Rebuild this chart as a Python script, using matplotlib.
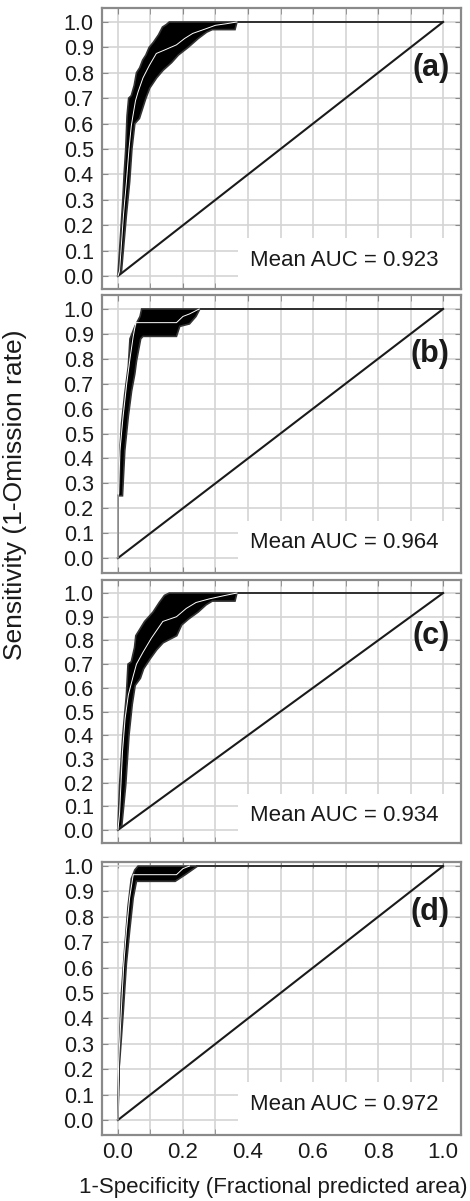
import numpy as np
import matplotlib.pyplot as plt
from matplotlib.patches import Rectangle
from matplotlib.ticker import MultipleLocator

plt.rcParams['font.family'] = ['Liberation Sans', 'DejaVu Sans']

# panel labels and mean AUC
panels = ['(a)', '(b)', '(c)', '(d)']
mean_auc = [0.923, 0.964, 0.934, 0.972]

# upper edge of the +/- band (left side in x), lower edge, and the mean curve
upper_a_x = [0.0, 0.005, 0.010, 0.015, 0.019, 0.024, 0.028, 0.033, 0.041, 0.050, 0.057, 0.067, 0.076, 0.086, 0.096, 0.109, 0.125, 0.137, 0.149, 0.158]
upper_a_y = [0.0, 0.10, 0.20, 0.30, 0.40, 0.50, 0.63, 0.70, 0.71, 0.75, 0.80, 0.82, 0.85, 0.87, 0.90, 0.92, 0.95, 0.98, 0.99, 1.0]
lower_a_x = [0.0, 0.011, 0.026, 0.036, 0.043, 0.052, 0.066, 0.076, 0.086, 0.098, 0.119, 0.139, 0.165, 0.186, 0.216, 0.247, 0.273, 0.290, 0.360, 0.366, 1.0]
lower_a_y = [0.0, 0.02, 0.24, 0.37, 0.50, 0.60, 0.62, 0.66, 0.70, 0.74, 0.78, 0.81, 0.84, 0.87, 0.90, 0.935, 0.96, 0.97, 0.97, 1.0, 1.0]
mean_a_x = [0.0, 0.005, 0.017, 0.026, 0.034, 0.041, 0.046, 0.054, 0.062, 0.077, 0.097, 0.118, 0.144, 0.180, 0.205, 0.230, 0.272, 0.300, 0.333, 0.366]
mean_a_y = [0.0, 0.02, 0.24, 0.37, 0.50, 0.59, 0.63, 0.69, 0.725, 0.78, 0.83, 0.876, 0.89, 0.91, 0.935, 0.955, 0.974, 0.987, 0.993, 1.0]

upper_b_x = [0.0, 0.0, 0.004, 0.006, 0.011, 0.021, 0.032, 0.037, 0.052, 0.068, 0.073]
upper_b_y = [0.0, 0.25, 0.26, 0.43, 0.54, 0.66, 0.77, 0.88, 0.93, 0.97, 1.0]
lower_b_x = [0.0, 0.0, 0.014, 0.021, 0.032, 0.042, 0.052, 0.057, 0.070, 0.077, 0.180, 0.190, 0.220, 0.240, 0.252, 1.0]
lower_b_y = [0.0, 0.25, 0.25, 0.43, 0.57, 0.67, 0.74, 0.79, 0.88, 0.89, 0.89, 0.93, 0.94, 0.97, 1.0, 1.0]
mean_b_x = [0.0, 0.0, 0.002, 0.006, 0.016, 0.027, 0.037, 0.047, 0.055, 0.180, 0.200, 0.220, 0.250]
mean_b_y = [0.0, 0.25, 0.26, 0.43, 0.57, 0.70, 0.80, 0.89, 0.945, 0.945, 0.97, 0.98, 1.0]

upper_c_x = [0.0, 0.005, 0.015, 0.026, 0.031, 0.041, 0.051, 0.055, 0.082, 0.108, 0.127, 0.143, 0.158]
upper_c_y = [0.0, 0.19, 0.40, 0.57, 0.70, 0.71, 0.77, 0.82, 0.88, 0.92, 0.96, 0.99, 1.0]
lower_c_x = [0.0, 0.012, 0.024, 0.034, 0.044, 0.053, 0.069, 0.079, 0.098, 0.119, 0.139, 0.181, 0.196, 0.217, 0.247, 0.271, 0.290, 0.360, 0.366, 1.0]
lower_c_y = [0.0, 0.02, 0.19, 0.40, 0.53, 0.61, 0.64, 0.68, 0.72, 0.76, 0.79, 0.82, 0.865, 0.89, 0.92, 0.95, 0.966, 0.966, 1.0, 1.0]
mean_c_x = [0.0, 0.005, 0.014, 0.022, 0.032, 0.047, 0.057, 0.077, 0.103, 0.138, 0.180, 0.210, 0.240, 0.280, 0.330, 0.366]
mean_c_y = [0.0, 0.07, 0.33, 0.47, 0.57, 0.65, 0.70, 0.75, 0.81, 0.88, 0.90, 0.935, 0.96, 0.975, 0.99, 1.0]

upper_d_x = [0.0, 0.003, 0.005, 0.010, 0.021, 0.031, 0.041, 0.052, 0.062]
upper_d_y = [0.0, 0.226, 0.30, 0.486, 0.68, 0.84, 0.95, 0.985, 1.0]
lower_d_x = [0.0, 0.003, 0.005, 0.016, 0.026, 0.036, 0.047, 0.057, 0.176, 0.207, 0.245, 1.0]
lower_d_y = [0.0, 0.2, 0.226, 0.42, 0.615, 0.745, 0.875, 0.94, 0.94, 0.966, 1.0, 1.0]
mean_d_x = [0.0, 0.002, 0.010, 0.018, 0.026, 0.036, 0.047, 0.180, 0.200, 0.220]
mean_d_y = [0.0, 0.226, 0.42, 0.615, 0.745, 0.875, 0.966, 0.966, 0.99, 1.0]

upper = [(upper_a_x, upper_a_y), (upper_b_x, upper_b_y), (upper_c_x, upper_c_y), (upper_d_x, upper_d_y)]
lower = [(lower_a_x, lower_a_y), (lower_b_x, lower_b_y), (lower_c_x, lower_c_y), (lower_d_x, lower_d_y)]
means = [(mean_a_x, mean_a_y), (mean_b_x, mean_b_y), (mean_c_x, mean_c_y), (mean_d_x, mean_d_y)]

diag = [0.0, 1.0]
yticks = np.round(np.arange(0, 1.01, 0.1), 1)
xticks = np.round(np.arange(0, 1.01, 0.2), 1)

W, H = 470, 1201
fig = plt.figure(figsize=(W / 100, H / 100), dpi=100)

# axes boxes in pixels: (top, bottom), plus y-limits
boxes = [(8, 289), (295, 573), (580, 843), (862, 1135)]
ylims = [(-0.051, 1.055), (-0.06, 1.056), (-0.055, 1.055), (-0.059, 1.016)]
left_px, right_px = 102, 461

frame_col = '#8a8a8a'
for i in range(4):
    top, bot = boxes[i]
    ax = fig.add_axes([left_px / W, 1 - bot / H, (right_px - left_px) / W, (bot - top) / H])
    ax.set_xlim(-0.049, 1.055)
    ax.set_ylim(*ylims[i])
    ax.set_axisbelow(True)
    ax.set_xticks(xticks)
    ax.set_xticklabels([f'{v:.1f}' for v in xticks])
    ax.xaxis.set_minor_locator(MultipleLocator(0.1))
    ax.set_yticks(yticks)
    ax.set_yticklabels([f'{v:.1f}' for v in yticks])
    ax.grid(True, which='both', color='#d4d4d4', lw=1.2)
    ax.tick_params(which='both', direction='in', length=4, color=frame_col,
                   top=True, right=True, labelsize=15.5, labelcolor='#1a1a1a')
    ax.tick_params(axis='y', pad=6)
    ax.tick_params(axis='x', pad=5, labelsize=16)
    for s in ax.spines.values():
        s.set_color(frame_col)
        s.set_linewidth(1.6)
    if i < 3:
        ax.tick_params(axis='x', labelbottom=False)

    # white patch behind the AUC note hides the grid there
    ax.add_patch(Rectangle((0.37, -0.07), 0.70, 0.22, facecolor='white', edgecolor='none', zorder=1))

    ux, uy = upper[i]
    lx, ly = lower[i]
    ax.fill(list(ux) + list(lx[::-1]), list(uy) + list(ly[::-1]),
            facecolor='black', edgecolor='#333333', lw=1.2, zorder=3)
    mx, my = means[i]
    ax.plot(mx, my, color='white', lw=0.7, zorder=4)
    ax.plot(diag, diag, color='#1a1a1a', lw=1.5, zorder=3)

    ax.text(0.695, 0.063, f'Mean AUC = {mean_auc[i]:.3f}', fontsize=16,
            ha='center', va='center', color='#1a1a1a', zorder=5)
    ax.text(1.02, 0.82, panels[i], fontsize=22, fontweight='bold',
            ha='right', va='center', color='#1a1a1a', zorder=5)

fig.text(15 / W, 1 - 495 / H, 'Sensitivity (1-Omission rate)', rotation=90,
         ha='center', va='center', fontsize=19, color='#1a1a1a')
fig.text(273 / W, 1 - 1188 / H, '1-Specificity (Fractional predicted area)',
         ha='center', va='center', fontsize=16, color='#1a1a1a')

fig.savefig('out.png', dpi=100)
